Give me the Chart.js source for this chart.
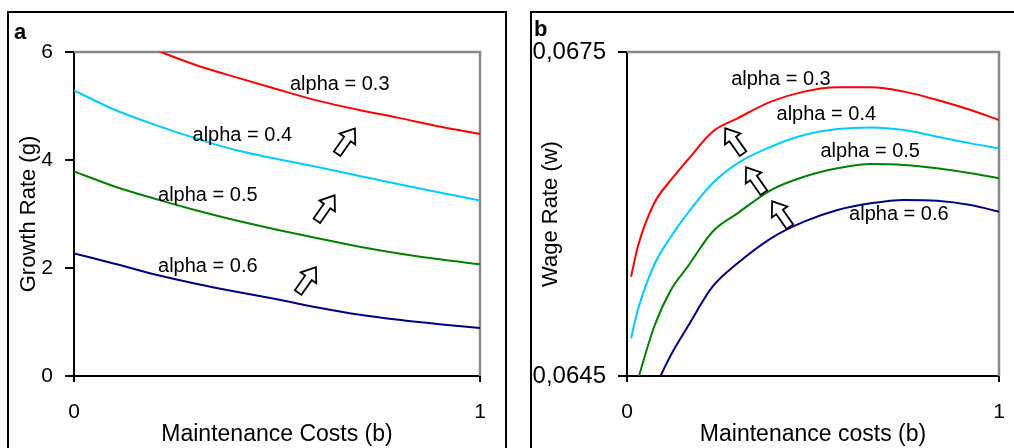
<!DOCTYPE html>
<html>
<head>
<meta charset="utf-8">
<script src="https://cdn.jsdelivr.net/npm/chart.js@4.4.1/dist/chart.umd.min.js"></script>
<style>
  html, body { margin: 0; padding: 0; background: #fff; }
  body { width: 1014px; height: 448px; overflow: hidden; position: relative; font-family: "Liberation Sans", Arial, sans-serif; }
  .box { position: absolute; top: 11px; height: 470px; border: 2px solid #000; overflow: hidden; }
  #boxA { left: 7px; width: 496px; }
  #boxB { left: 530px; width: 500px; }
  .box canvas { position: absolute; left: 0; top: 0; }
  .tag { position: absolute; font-weight: bold; font-size: 22px; line-height: 22px; }
</style>
</head>
<body>
<div class="box" id="boxA"><canvas id="chartA" width="496" height="435"></canvas></div>
<div class="box" id="boxB"><canvas id="chartB" width="492" height="435"></canvas></div>
<div class="tag" style="left:14px; top:21px;">a</div>
<div class="tag" style="left:534px; top:18px;">b</div>
<script>
// panel a: growth rate vs maintenance costs
const costsA = [0, 0.1, 0.2, 0.3, 0.4, 0.5, 0.6, 0.7, 0.8, 0.9, 1.0];
const growth03 = [6.64, 6.33, 6.04, 5.76, 5.53, 5.31, 5.10, 4.93, 4.78, 4.62, 4.48];
const growth04 = [5.29, 4.93, 4.65, 4.40, 4.18, 4.02, 3.87, 3.71, 3.55, 3.40, 3.25];
const growth05 = [3.79, 3.51, 3.28, 3.07, 2.88, 2.71, 2.55, 2.40, 2.27, 2.16, 2.07];
const growth06 = [2.27, 2.08, 1.88, 1.71, 1.56, 1.42, 1.27, 1.14, 1.04, 0.96, 0.89];
const growthTicks = [0, 2, 4, 6];

// panel b: wage rate vs maintenance costs
const costsB = [0.011, 0.029, 0.073, 0.118, 0.163, 0.23, 0.297, 0.387, 0.476, 0.566, 0.655, 0.745, 0.834, 0.924, 1.0];
const wage03 = [0.065419, 0.065697, 0.066099, 0.066315, 0.0665, 0.066762, 0.066886, 0.06704, 0.067133, 0.067173, 0.067173, 0.067133, 0.067056, 0.066963, 0.06687];
const wage04 = [0.064849, 0.065111, 0.065528, 0.06579, 0.066006, 0.066284, 0.066469, 0.066623, 0.066731, 0.066787, 0.066802, 0.066778, 0.066716, 0.066654, 0.066608];
const wage05 = [0.064262, 0.064464, 0.064956, 0.065296, 0.065512, 0.065836, 0.066006, 0.066222, 0.066345, 0.066423, 0.066463, 0.066454, 0.066423, 0.066377, 0.066331];
const wage06 = [0.06385, 0.06400, 0.06437, 0.064694, 0.064956, 0.065327, 0.065543, 0.065775, 0.065929, 0.066037, 0.066099, 0.06613, 0.066123, 0.066083, 0.066021];
const wageTicks = [0.0645, 0.0675];

const costTicks = [0, 1];
const seriesNames = ['alpha = 0.3', 'alpha = 0.4', 'alpha = 0.5', 'alpha = 0.6'];
const seriesColors = ['#ff0000', '#00ccff', '#008000', '#000080'];

// where the curve labels and arrows sit, in data units
const labelXA = [0.532, 0.292, 0.207, 0.207];
const labelYA = [5.39, 4.46, 3.35, 2.02];
const arrowXA = [0.67, 0.62, 0.574];
const arrowYA = [4.35, 3.11, 1.78];
const labelXB = [0.28, 0.402, 0.52, 0.597];
const labelYB = [0.06725, 0.066917, 0.066577, 0.065991];
const arrowXB = [0.288, 0.344, 0.414];
const arrowYB = [0.066676, 0.066315, 0.066];

const FONT = '"Liberation Sans", Arial, sans-serif';

function pairs(xs, ys) {
    return xs.map(function(x, i) { return {x: x, y: ys[i]}; });
}

function drawArrow(ctx, cx, cy, angle) {
    const L = 31, head = 13, sw = 4, hw = 9.5;
    ctx.save();
    ctx.translate(cx, cy);
    ctx.rotate(-angle * Math.PI / 180);
    ctx.beginPath();
    ctx.moveTo(-L / 2, -sw);
    ctx.lineTo(L / 2 - head, -sw);
    ctx.lineTo(L / 2 - head, -hw);
    ctx.lineTo(L / 2, 0);
    ctx.lineTo(L / 2 - head, hw);
    ctx.lineTo(L / 2 - head, sw);
    ctx.lineTo(-L / 2, sw);
    ctx.closePath();
    ctx.fillStyle = '#fff';
    ctx.fill();
    ctx.lineWidth = 1.8;
    ctx.strokeStyle = '#000';
    ctx.stroke();
    ctx.restore();
}

const decorPlugin = {
    id: 'decor',
    beforeDatasetsDraw: function(chart) {
        const a = chart.chartArea, ctx = chart.ctx;
        ctx.save();
        ctx.strokeStyle = '#888888';
        ctx.lineWidth = 2.5;
        ctx.beginPath();
        ctx.moveTo(a.left, a.top);
        ctx.lineTo(a.right, a.top);
        ctx.lineTo(a.right, a.bottom);
        ctx.stroke();
        ctx.restore();
    },
    afterDatasetsDraw: function(chart, args, opts) {
        const ctx = chart.ctx, xs = chart.scales.x, ys = chart.scales.y;
        ctx.save();
        ctx.font = '20px ' + FONT;
        ctx.fillStyle = '#000';
        ctx.textAlign = 'left';
        ctx.textBaseline = 'middle';
        opts.lx.forEach(function(x, i) {
            ctx.fillText(seriesNames[i], xs.getPixelForValue(x), ys.getPixelForValue(opts.ly[i]));
        });
        opts.ax.forEach(function(x, i) {
            drawArrow(ctx, xs.getPixelForValue(x), ys.getPixelForValue(opts.ay[i]), opts.angle);
        });
        ctx.restore();
    }
};

function makeChart(id, xs, series, yTicks, cfg) {
    const datasets = series.map(function(ys, i) {
        return {
            label: seriesNames[i],
            data: pairs(xs, ys),
            borderColor: seriesColors[i],
            backgroundColor: seriesColors[i],
            borderWidth: 2,
            pointRadius: 0,
            cubicInterpolationMode: 'monotone'
        };
    });
    return new Chart(document.getElementById(id).getContext('2d'), {
        type: 'line',
        data: {datasets: datasets},
        plugins: [decorPlugin],
        options: {
            responsive: false,
            animation: false,
            events: [],
            layout: {padding: {left: 0, top: 39, right: 25, bottom: 0}},
            plugins: {
                legend: {display: false},
                tooltip: {enabled: false},
                decor: {lx: cfg.lx, ly: cfg.ly, ax: cfg.ax, ay: cfg.ay, angle: cfg.angle}
            },
            scales: {
                x: {
                    type: 'linear',
                    min: 0, max: 1,
                    afterBuildTicks: function(s) { s.ticks = costTicks.map(function(v) { return {value: v}; }); },
                    afterFit: function(s) { s.height = 72; },
                    grid: {drawOnChartArea: false, drawTicks: true, tickLength: 6, color: '#000', lineWidth: 2},
                    border: {display: true, color: '#000', width: 2},
                    ticks: {color: '#000', font: {family: FONT, size: 21}, padding: 18, maxRotation: 0,
                        callback: function(v) { return String(v); }},
                    title: {display: true, text: cfg.xTitle, color: '#000', font: {family: FONT, size: 23}, padding: {top: 0, bottom: 0}}
                },
                y: {
                    type: 'linear',
                    min: yTicks[0], max: yTicks[yTicks.length - 1],
                    afterBuildTicks: function(s) { s.ticks = yTicks.map(function(v) { return {value: v}; }); },
                    afterFit: function(s) { s.width = cfg.yWidth; },
                    grid: {drawOnChartArea: false, drawTicks: true, tickLength: 9, color: '#000', lineWidth: 2},
                    border: {display: true, color: '#000', width: 2},
                    ticks: {color: '#000', font: {family: FONT, size: cfg.yTickSize}, padding: 12, callback: cfg.yFormat},
                    title: {display: true, text: cfg.yTitle, color: '#000', font: {family: FONT, size: 22}, padding: {top: cfg.yTitlePad, bottom: 0}}
                }
            }
        }
    });
}

window.onload = function() {
    makeChart('chartA', costsA, [growth03, growth04, growth05, growth06], growthTicks, {
        yWidth: 65, yTickSize: 21, yTitlePad: 7,
        xTitle: 'Maintenance Costs (b)', yTitle: 'Growth Rate (g)',
        yFormat: function(v) { return String(v); },
        lx: labelXA, ly: labelYA, ax: arrowXA, ay: arrowYA, angle: 55
    });
    makeChart('chartB', costsB, [wage03, wage04, wage05, wage06], wageTicks, {
        yWidth: 95, yTickSize: 24, yTitlePad: 6,
        xTitle: 'Maintenance costs (b)', yTitle: 'Wage Rate (w)',
        yFormat: function(v) { return v.toFixed(4).replace('.', ','); },
        lx: labelXB, ly: labelYB, ax: arrowXB, ay: arrowYB, angle: 125
    });
};
</script>
</body>
</html>
